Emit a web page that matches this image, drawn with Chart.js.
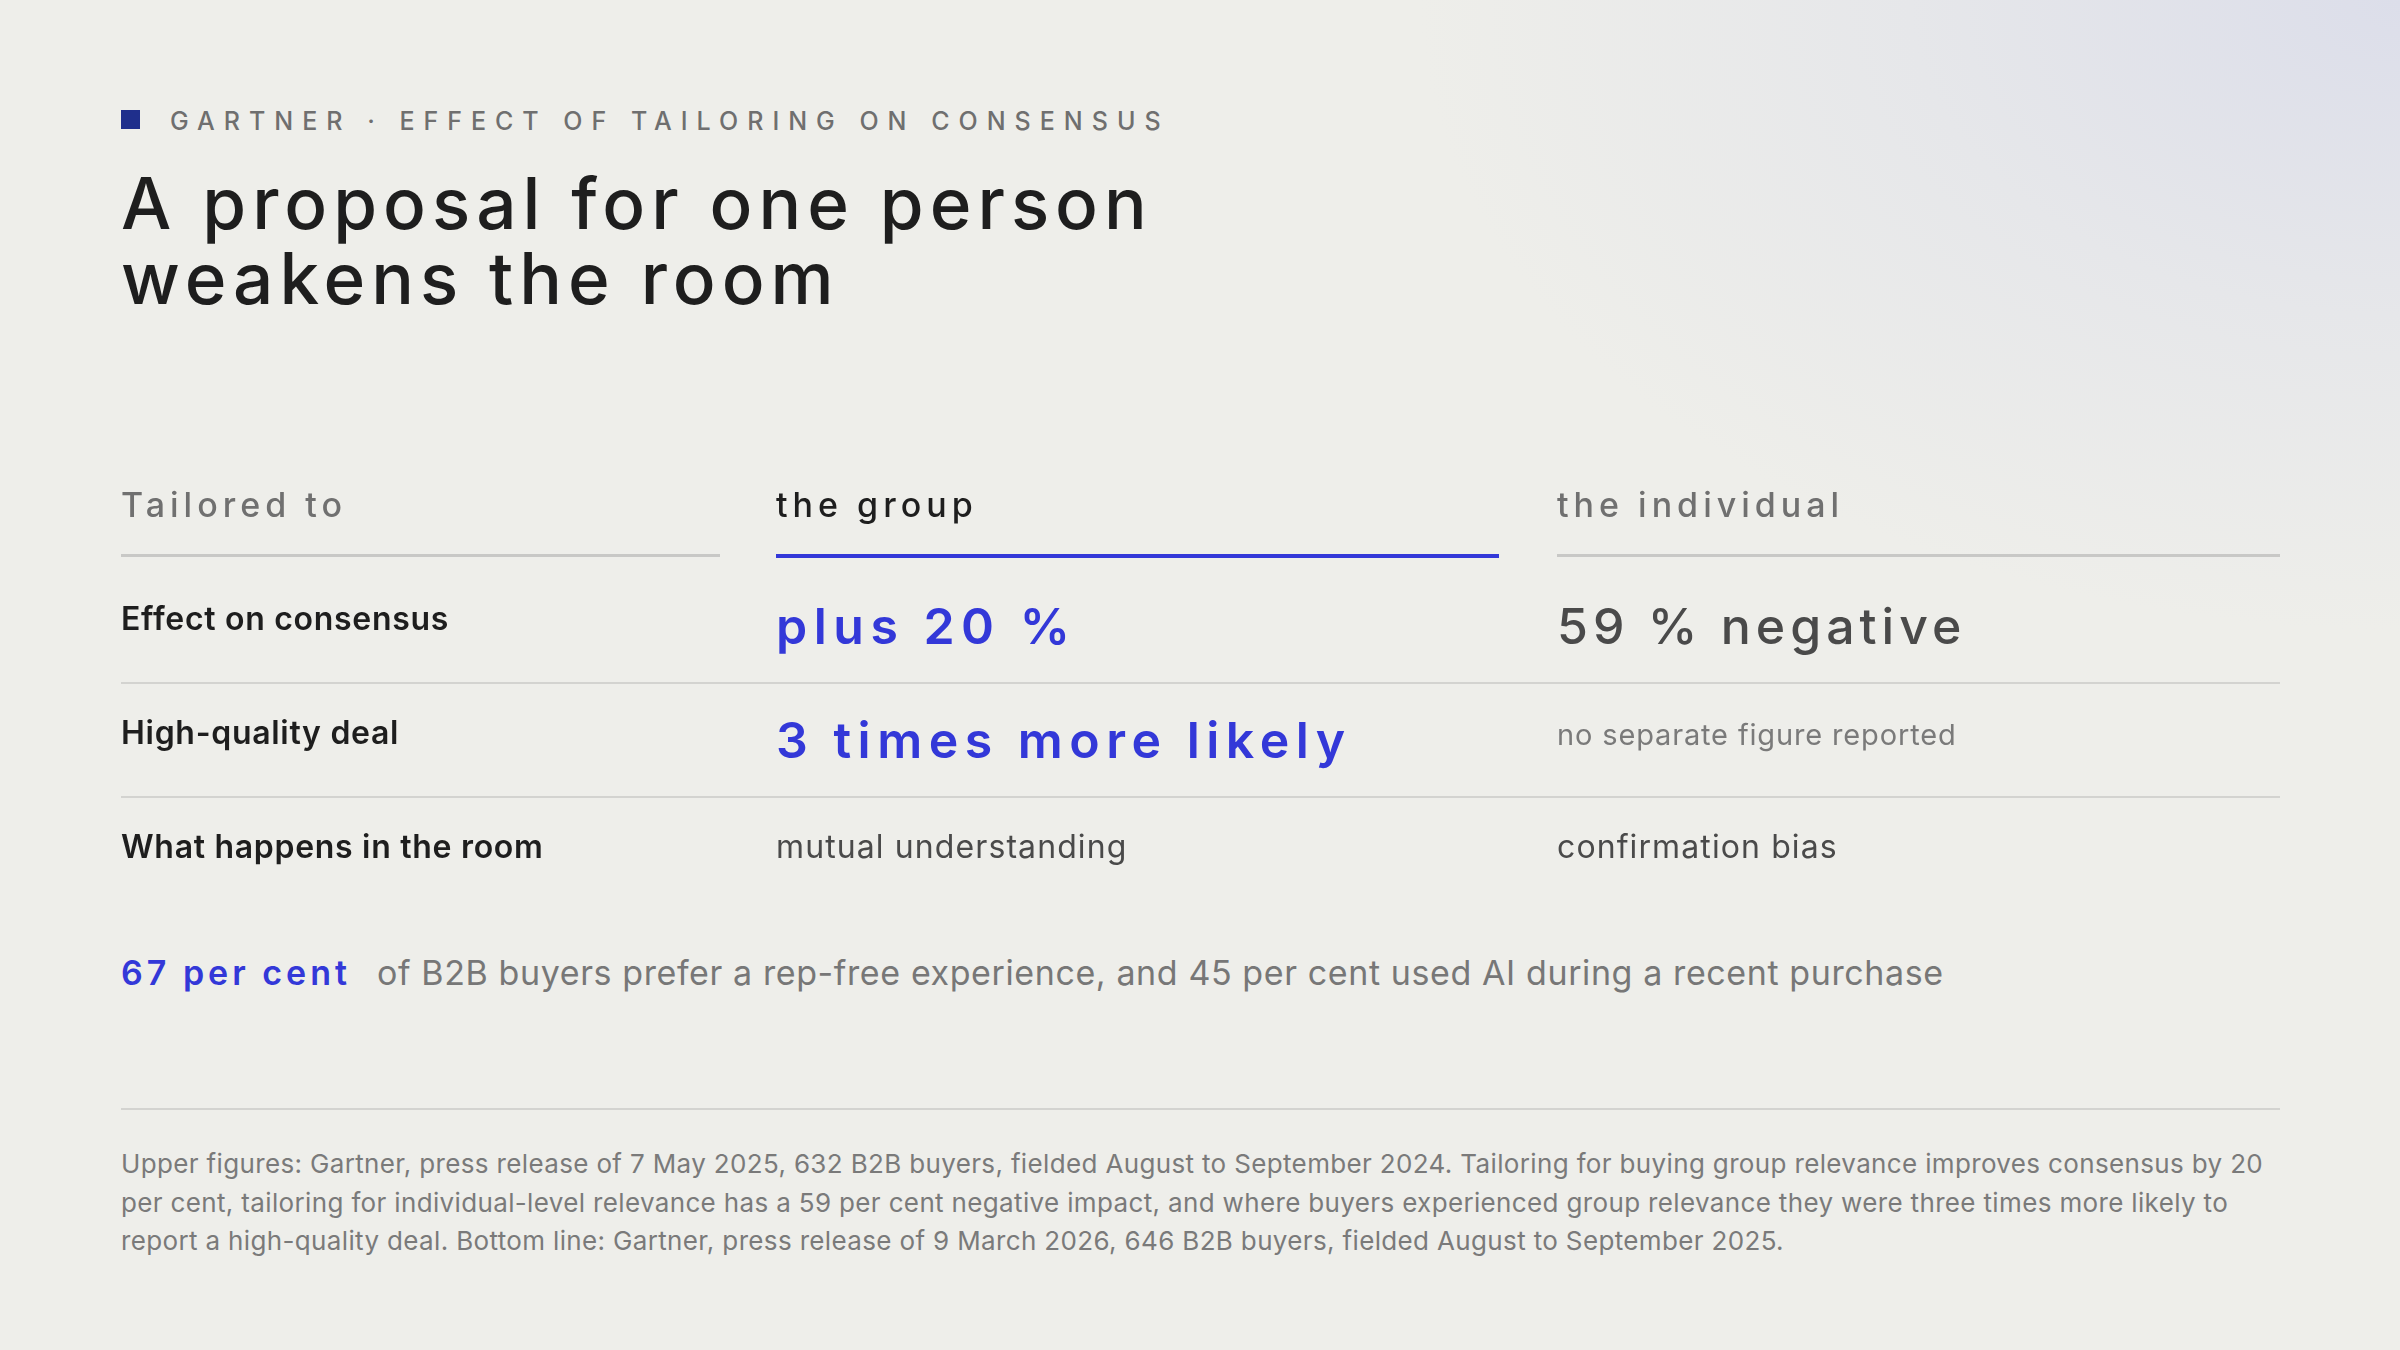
<!DOCTYPE html>
<html><head><meta charset="utf-8">
<script src="https://cdn.jsdelivr.net/npm/chart.js@4"></script>
<style>
html,body{margin:0;padding:0;width:2400px;height:1350px;overflow:hidden;font-family:Inter,"Noto Sans",sans-serif;}
body{background:radial-gradient(ellipse 1400px 900px at 2400px 0px,#dcdeea 0%,#e6e7ea 35%,#eeeeea 70%),#eeeeea;}
.kick{position:absolute;left:121px;top:106px;font-size:25px;letter-spacing:9px;color:#6f6f6f;font-weight:500;}
.kick span{display:inline-block;width:19px;height:19px;background:#1f2f8c;margin-right:30px;vertical-align:1px;}
h1{position:absolute;left:121px;top:166px;margin:0;font-size:71px;line-height:75px;font-weight:500;letter-spacing:6px;color:#1e1e1e;}
#wrap{position:absolute;left:0;top:449px;width:2400px;height:456px;}
.bl{position:absolute;left:121px;top:952px;font-size:34px;color:#777;letter-spacing:0.6px;}
.bl b{color:#3338d8;font-weight:600;letter-spacing:4px;margin-right:26px;}
.sep{position:absolute;left:121px;width:2159px;top:1108px;height:2px;background:#d3d3d0;}
.fn{position:absolute;left:121px;top:1145px;width:2160px;font-size:26px;line-height:38.5px;color:#7a7a7a;letter-spacing:0.35px;}
</style></head><body>
<div class="kick"><span></span>GARTNER · EFFECT OF TAILORING ON CONSENSUS</div>
<h1>A proposal for one person<br>weakens the room</h1>
<div id="wrap"><canvas id="c"></canvas></div>
<div class="bl"><b>67 per cent</b>of B2B buyers prefer a rep-free experience, and 45 per cent used AI during a recent purchase</div>
<div class="sep"></div>
<div class="fn">Upper figures: Gartner, press release of 7 May 2025, 632 B2B buyers, fielded August to September 2024. Tailoring for buying group relevance improves consensus by 20 per cent, tailoring for individual-level relevance has a 59 per cent negative impact, and where buyers experienced group relevance they were three times more likely to report a high-quality deal. Bottom line: Gartner, press release of 9 March 2026, 646 B2B buyers, fielded August to September 2025.</div>
<script>
const columns=['Tailored to','the group','the individual'];
const rowLabels=['Effect on consensus','High-quality deal','What happens in the room'];
const groupValues=['plus 20 %','3 times more likely','mutual understanding'];
const individualValues=['59 % negative','no separate figure reported','confirmation bias'];
const groupStyle=['big','big','plain'];
const individualStyle=['bigGray','small','plain'];

const colX=[121,776,1557], colW=[599,723,723];
const tablePlugin={id:'table',afterDraw(ch){
  const ctx=ch.ctx, y=ch.scales.y;
  ctx.save();ctx.textBaseline='middle';
  const hy=y.getPixelForValue(0);
  columns.forEach((c,i)=>{
    ctx.font='500 34px Inter';ctx.letterSpacing='5px';
    ctx.fillStyle=i==1?'#1e1e1e':'#707070';
    ctx.fillText(c,colX[i],hy+1);
    ctx.fillStyle=i==1?'#3338d8':'#c8c8c6';
    ctx.fillRect(colX[i],hy+48,colW[i],i==1?4:3);
  });
  rowLabels.forEach((r,k)=>{
    const cy=y.getPixelForValue(k+1);
    ctx.letterSpacing='0.7px';ctx.font='600 32px Inter';ctx.fillStyle='#1e1e1e';
    ctx.fillText(r,colX[0],cy);
    const draw=(txt,st,x)=>{
      if(st==='big'){ctx.font='600 50px Inter';ctx.letterSpacing='6.5px';ctx.fillStyle='#3338d8';ctx.fillText(txt,x,cy+9);}
      else if(st==='bigGray'){ctx.font='500 50px Inter';ctx.letterSpacing='5px';ctx.fillStyle='#4a4a4a';ctx.fillText(txt,x,cy+9);}
      else if(st==='small'){ctx.font='400 29px Inter';ctx.letterSpacing='0.85px';ctx.fillStyle='#7a7a7a';ctx.fillText(txt,x,cy+2);}
      else {ctx.font='400 32px Inter';ctx.letterSpacing='1.1px';ctx.fillStyle='#4a4a4a';ctx.fillText(txt,x,cy);}
    };
    draw(groupValues[k],groupStyle[k],colX[1]);
    draw(individualValues[k],individualStyle[k],colX[2]);
    if(k<rowLabels.length-1){ctx.fillStyle='#d3d3d0';ctx.fillRect(121,cy+62,2159,2);}
  });
  ctx.restore();
}};
new Chart(document.getElementById('c'),{
  type:'bar',
  data:{labels:['header',...rowLabels],datasets:[{data:[]}]},
  options:{indexAxis:'y',responsive:true,maintainAspectRatio:false,animation:false,
    layout:{padding:0},
    plugins:{legend:{display:false},tooltip:{enabled:false}},
    scales:{x:{display:false,min:0,max:1},y:{display:false,offset:true}}},
  plugins:[tablePlugin]
});
</script>
</body></html>
